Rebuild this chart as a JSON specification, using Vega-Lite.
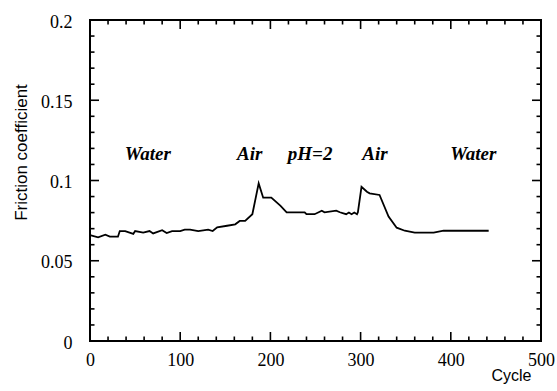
{
  "$schema": "https://vega.github.io/schema/vega-lite/v6.json",
  "autosize": {"type": "none"},
  "padding": {"left": 90, "top": 20, "right": 16, "bottom": 50},
  "width": 451,
  "height": 321,
  "background": "white",
  "datasets": {
    "friction": [
      {"cycle": 0, "f": 0.066},
      {"cycle": 9, "f": 0.0646},
      {"cycle": 17, "f": 0.0662},
      {"cycle": 22, "f": 0.065},
      {"cycle": 31, "f": 0.065},
      {"cycle": 33, "f": 0.0685},
      {"cycle": 39, "f": 0.0685},
      {"cycle": 48, "f": 0.0667},
      {"cycle": 50, "f": 0.0685},
      {"cycle": 59, "f": 0.0675},
      {"cycle": 66, "f": 0.0685},
      {"cycle": 70, "f": 0.067},
      {"cycle": 80, "f": 0.069},
      {"cycle": 85, "f": 0.0673},
      {"cycle": 91, "f": 0.0685},
      {"cycle": 100, "f": 0.0685},
      {"cycle": 105, "f": 0.0694},
      {"cycle": 111, "f": 0.0694},
      {"cycle": 120, "f": 0.0685},
      {"cycle": 131, "f": 0.0694},
      {"cycle": 136, "f": 0.0685},
      {"cycle": 141, "f": 0.0708},
      {"cycle": 152, "f": 0.0718},
      {"cycle": 161, "f": 0.0727},
      {"cycle": 166, "f": 0.0748},
      {"cycle": 172, "f": 0.0748},
      {"cycle": 180, "f": 0.079},
      {"cycle": 187, "f": 0.0982},
      {"cycle": 192, "f": 0.0893},
      {"cycle": 201, "f": 0.0893},
      {"cycle": 211, "f": 0.0843},
      {"cycle": 218, "f": 0.0802},
      {"cycle": 238, "f": 0.0802},
      {"cycle": 240, "f": 0.079},
      {"cycle": 249, "f": 0.079},
      {"cycle": 257, "f": 0.0812},
      {"cycle": 260, "f": 0.0802},
      {"cycle": 273, "f": 0.0812},
      {"cycle": 277, "f": 0.0802},
      {"cycle": 281, "f": 0.0795},
      {"cycle": 284, "f": 0.079},
      {"cycle": 287, "f": 0.08},
      {"cycle": 290, "f": 0.079},
      {"cycle": 293, "f": 0.08},
      {"cycle": 296, "f": 0.079},
      {"cycle": 297, "f": 0.0802},
      {"cycle": 301, "f": 0.0961},
      {"cycle": 307, "f": 0.093},
      {"cycle": 310, "f": 0.092},
      {"cycle": 321, "f": 0.091},
      {"cycle": 331, "f": 0.0775},
      {"cycle": 340, "f": 0.0706},
      {"cycle": 349, "f": 0.0687},
      {"cycle": 360, "f": 0.0675},
      {"cycle": 381, "f": 0.0675},
      {"cycle": 392, "f": 0.0687},
      {"cycle": 442, "f": 0.0687}
    ],
    "labels": [
      {"cycle": 64, "f": 0.1128, "text": "Water"},
      {"cycle": 177, "f": 0.1128, "text": "Air"},
      {"cycle": 244, "f": 0.1128, "text": "pH=2"},
      {"cycle": 316, "f": 0.1128, "text": "Air"},
      {"cycle": 425, "f": 0.1128, "text": "Water"}
    ],
    "xmajor": [
      {"cycle": 0, "f": 0}, {"cycle": 100, "f": 0}, {"cycle": 200, "f": 0}, {"cycle": 300, "f": 0}, {"cycle": 400, "f": 0}, {"cycle": 500, "f": 0},
      {"cycle": 0, "f": 0.2}, {"cycle": 100, "f": 0.2}, {"cycle": 200, "f": 0.2}, {"cycle": 300, "f": 0.2}, {"cycle": 400, "f": 0.2}, {"cycle": 500, "f": 0.2}
    ],
    "xminor": [
      {"cycle": 20, "f": 0}, {"cycle": 40, "f": 0}, {"cycle": 60, "f": 0}, {"cycle": 80, "f": 0},
      {"cycle": 120, "f": 0}, {"cycle": 140, "f": 0}, {"cycle": 160, "f": 0}, {"cycle": 180, "f": 0},
      {"cycle": 220, "f": 0}, {"cycle": 240, "f": 0}, {"cycle": 260, "f": 0}, {"cycle": 280, "f": 0},
      {"cycle": 320, "f": 0}, {"cycle": 340, "f": 0}, {"cycle": 360, "f": 0}, {"cycle": 380, "f": 0},
      {"cycle": 420, "f": 0}, {"cycle": 440, "f": 0}, {"cycle": 460, "f": 0}, {"cycle": 480, "f": 0},
      {"cycle": 20, "f": 0.2}, {"cycle": 40, "f": 0.2}, {"cycle": 60, "f": 0.2}, {"cycle": 80, "f": 0.2},
      {"cycle": 120, "f": 0.2}, {"cycle": 140, "f": 0.2}, {"cycle": 160, "f": 0.2}, {"cycle": 180, "f": 0.2},
      {"cycle": 220, "f": 0.2}, {"cycle": 240, "f": 0.2}, {"cycle": 260, "f": 0.2}, {"cycle": 280, "f": 0.2},
      {"cycle": 320, "f": 0.2}, {"cycle": 340, "f": 0.2}, {"cycle": 360, "f": 0.2}, {"cycle": 380, "f": 0.2},
      {"cycle": 420, "f": 0.2}, {"cycle": 440, "f": 0.2}, {"cycle": 460, "f": 0.2}, {"cycle": 480, "f": 0.2}
    ],
    "ymajor": [
      {"cycle": 0, "f": 0}, {"cycle": 0, "f": 0.05}, {"cycle": 0, "f": 0.1}, {"cycle": 0, "f": 0.15}, {"cycle": 0, "f": 0.2},
      {"cycle": 500, "f": 0}, {"cycle": 500, "f": 0.05}, {"cycle": 500, "f": 0.1}, {"cycle": 500, "f": 0.15}, {"cycle": 500, "f": 0.2}
    ],
    "yminor": [
      {"cycle": 0, "f": 0.01}, {"cycle": 0, "f": 0.02}, {"cycle": 0, "f": 0.03}, {"cycle": 0, "f": 0.04},
      {"cycle": 0, "f": 0.06}, {"cycle": 0, "f": 0.07}, {"cycle": 0, "f": 0.08}, {"cycle": 0, "f": 0.09},
      {"cycle": 0, "f": 0.11}, {"cycle": 0, "f": 0.12}, {"cycle": 0, "f": 0.13}, {"cycle": 0, "f": 0.14},
      {"cycle": 0, "f": 0.16}, {"cycle": 0, "f": 0.17}, {"cycle": 0, "f": 0.18}, {"cycle": 0, "f": 0.19},
      {"cycle": 500, "f": 0.01}, {"cycle": 500, "f": 0.02}, {"cycle": 500, "f": 0.03}, {"cycle": 500, "f": 0.04},
      {"cycle": 500, "f": 0.06}, {"cycle": 500, "f": 0.07}, {"cycle": 500, "f": 0.08}, {"cycle": 500, "f": 0.09},
      {"cycle": 500, "f": 0.11}, {"cycle": 500, "f": 0.12}, {"cycle": 500, "f": 0.13}, {"cycle": 500, "f": 0.14},
      {"cycle": 500, "f": 0.16}, {"cycle": 500, "f": 0.17}, {"cycle": 500, "f": 0.18}, {"cycle": 500, "f": 0.19}
    ]
  },
  "layer": [
    {
      "data": {"name": "friction"},
      "mark": {"type": "line", "color": "black", "strokeWidth": 1.8},
      "encoding": {
        "x": {
          "field": "cycle", "type": "quantitative",
          "scale": {"domain": [0, 500], "nice": false, "zero": false},
          "axis": {
            "values": [0, 100, 200, 300, 400, 500],
            "ticks": false, "domain": false, "grid": false,
            "labelFont": "serif", "labelFontSize": 18, "labelColor": "black",
            "labelBaseline": "alphabetic", "labelPadding": 24, "labelFlush": false,
            "title": "Cycle", "titleFontSize": 16, "titleFontWeight": "normal", "titleColor": "black",
            "titleX": 421, "titleY": 39, "titleAlign": "center", "titleBaseline": "alphabetic"
          }
        },
        "y": {
          "field": "f", "type": "quantitative",
          "scale": {"domain": [0, 0.2], "nice": false, "zero": false},
          "axis": {
            "values": [0, 0.05, 0.1, 0.15, 0.2], "format": "~g",
            "ticks": false, "domain": false, "grid": false,
            "labelFont": "serif", "labelFontSize": 18, "labelColor": "black",
            "labelBaseline": "middle", "labelPadding": 18, "labelOffset": 2, "labelFlush": false,
            "title": "Friction coefficient", "titleFontSize": 17, "titleFontWeight": "normal", "titleColor": "black",
            "titleAngle": 270, "titleX": -69, "titleY": 132, "titleAlign": "center", "titleBaseline": "middle"
          }
        }
      }
    },
    {
      "data": {"name": "xmajor"},
      "mark": {"type": "tick", "orient": "vertical", "size": 18, "thickness": 1.6, "color": "black", "opacity": 1, "clip": true},
      "encoding": {
        "x": {"field": "cycle", "type": "quantitative", "axis": null},
        "y": {"field": "f", "type": "quantitative", "axis": null}
      }
    },
    {
      "data": {"name": "xminor"},
      "mark": {"type": "tick", "orient": "vertical", "size": 9, "thickness": 1.6, "color": "black", "opacity": 1, "clip": true},
      "encoding": {
        "x": {"field": "cycle", "type": "quantitative", "axis": null},
        "y": {"field": "f", "type": "quantitative", "axis": null}
      }
    },
    {
      "data": {"name": "ymajor"},
      "mark": {"type": "tick", "orient": "horizontal", "size": 18, "thickness": 1.6, "color": "black", "opacity": 1, "clip": true},
      "encoding": {
        "x": {"field": "cycle", "type": "quantitative", "axis": null},
        "y": {"field": "f", "type": "quantitative", "axis": null}
      }
    },
    {
      "data": {"name": "yminor"},
      "mark": {"type": "tick", "orient": "horizontal", "size": 9, "thickness": 1.6, "color": "black", "opacity": 1, "clip": true},
      "encoding": {
        "x": {"field": "cycle", "type": "quantitative", "axis": null},
        "y": {"field": "f", "type": "quantitative", "axis": null}
      }
    },
    {
      "data": {"name": "labels"},
      "mark": {"type": "text", "font": "serif", "fontSize": 19, "fontStyle": "italic", "fontWeight": "bold", "color": "black", "align": "center", "baseline": "alphabetic"},
      "encoding": {
        "x": {"field": "cycle", "type": "quantitative", "axis": null},
        "y": {"field": "f", "type": "quantitative", "axis": null},
        "text": {"field": "text"}
      }
    }
  ],
  "resolve": {"axis": {"x": "independent", "y": "independent"}},
  "config": {
    "view": {"stroke": "black", "strokeWidth": 2}
  }
}
